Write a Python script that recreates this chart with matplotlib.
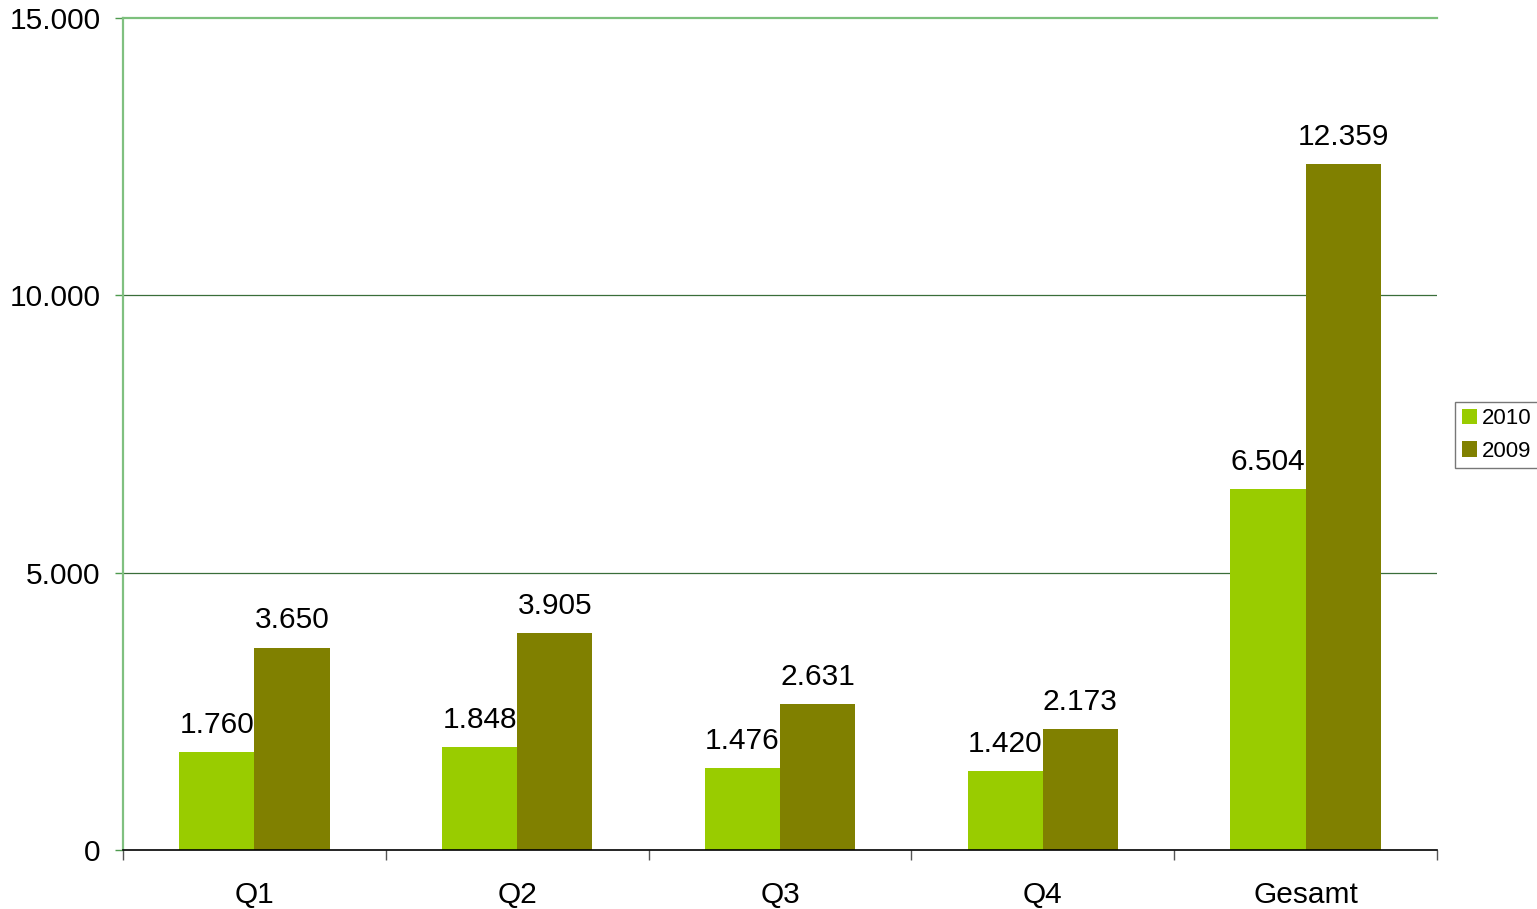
import matplotlib
matplotlib.use("Agg")
import matplotlib.pyplot as plt
import numpy as np

categories = ["Q1", "Q2", "Q3", "Q4", "Gesamt"]
values_2010 = [1760, 1848, 1476, 1420, 6504]
values_2009 = [3650, 3905, 2631, 2173, 12359]
series_names = ["2010", "2009"]
yticks = [0, 5000, 10000, 15000]

plt.rcParams['font.family'] = ['Liberation Sans', 'DejaVu Sans']

def fmt(v):
    return f"{v:,}".replace(",", ".")

fig = plt.figure(figsize=(15.37, 9.09), dpi=100)
ax = fig.add_axes([123/1537, 59/909, (1437-123)/1537, (850-18)/909])

x = np.arange(len(categories))
w = 0.286
c2010 = "#99CC00"
c2009 = "#808000"
b1 = ax.bar(x - w/2, values_2010, w, color=c2010, label=series_names[0], zorder=3)
b2 = ax.bar(x + w/2, values_2009, w, color=c2009, label=series_names[1], zorder=3)

for bars, vals in ((b1, values_2010), (b2, values_2009)):
    for r, v in zip(bars, vals):
        ax.annotate(fmt(v), (r.get_x() + r.get_width()/2, v), xytext=(0, 9.5),
                    textcoords="offset points", ha="center", va="bottom",
                    fontsize=21.5, zorder=4)

ax.set_xlim(-0.5, len(categories) - 0.5)
ax.set_ylim(0, 15000)
ax.set_yticks(yticks)
ax.set_yticklabels([fmt(v) for v in yticks], fontsize=21.5)
for t in yticks[1:-1]:
    ax.axhline(t, color="#3A6E3A", lw=0.9, zorder=1)
ax.axhline(15000, color="#7CC07C", lw=1.6, zorder=1, clip_on=False)

ax.set_xticks(x)
ax.set_xticklabels(categories, fontsize=21.5)
ax.set_xticks(np.arange(len(categories) + 1) - 0.5, minor=True)
ax.tick_params(axis="x", which="major", length=0, pad=22)
ax.tick_params(axis="x", which="minor", length=7, width=1, color="#555555", direction="out")
ax.tick_params(axis="y", length=6, width=1, color="#4E9A4E", direction="out", pad=10)

for s in ("top", "right"):
    ax.spines[s].set_visible(False)
ax.spines["left"].set_color("#80C080")
ax.spines["left"].set_linewidth(1.6)
ax.spines["bottom"].set_color("black")
ax.spines["bottom"].set_linewidth(1.2)
ax.spines["bottom"].set_zorder(5)

leg = ax.legend(loc="center left", bbox_to_anchor=(1455/1537, (909-435)/909),
                bbox_transform=fig.transFigure, fontsize=16, frameon=True,
                fancybox=False, edgecolor="#555555", handlelength=0.7,
                handleheight=0.7, handletextpad=0.2, borderpad=0.3,
                labelspacing=0.5, borderaxespad=0)
leg.get_frame().set_linewidth(1.0)

fig.savefig("out.png", dpi=100)
